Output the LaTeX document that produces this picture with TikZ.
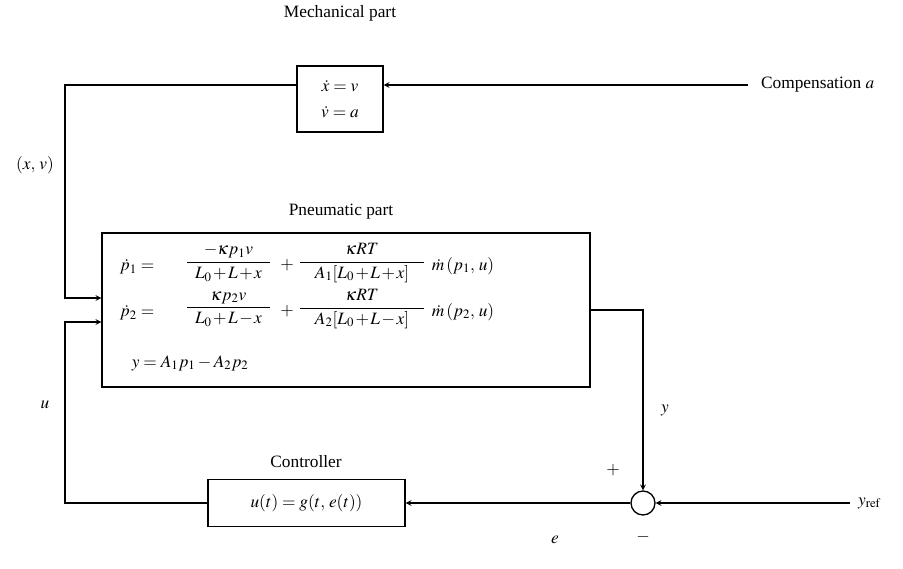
\documentclass[tikz,border=0pt]{standalone}
\usepackage{amsmath}
\usepackage{mathptmx}
\usepackage{fontspec}
\setmainfont{Liberation Serif}
\usetikzlibrary{positioning}
\newcommand{\tightops}{\medmuskip=1.5mu\relax}
\tikzset{blk/.style={draw, line width=1pt, inner sep=0pt},
  txt/.style={inner sep=1pt}}
\begin{document}
\begin{tikzpicture}[x=0.75pt, y=-0.75pt, >=stealth, line width=0.9pt, font=\fontsize{13}{15}\selectfont]
\useasboundingbox (0,0) rectangle (903,568);
% mechanical part
\node[blk, minimum width=64.5pt, minimum height=49.5pt] (mech) at (340,99) {};
\node[txt] (xdot) at (340,86) {$\dot x = v$};
\node[txt] (vdot) at (340,112) {$\dot v = a$};
\node (mechlbl) at (340,13) {Mechanical part};
\node[anchor=west] (comp) at (756,85) {Compensation $a$};
\coordinate (compin) at (748,85);
\draw[->] (compin) -- (mech.east |- compin);
% pneumatic part
\node[blk, minimum width=366pt, minimum height=115.5pt] (pneu) at (346,310) {};
\node (pneulbl) at (341,212) {Pneumatic part};
\node[txt, anchor=west] (p1) at (118,267) {$\dot p_1 =$};
\node[txt] (f11) at (228.5,263) {$\tightops\dfrac{-\kappa p_1 v}{\hspace{6pt}L_0+L+x\hspace{6pt}}$};
\node[txt] (pl1) at (287,265) {$+$};
\node[txt] (f12) at (362,263) {$\tightops\dfrac{\kappa RT}{\hspace{11pt}A_1[L_0+L+x]\hspace{11pt}}$};
\node[txt, anchor=west] (m1) at (430,266) {$\dot m\,(p_1,\, u)$};
\node[txt, anchor=west] (p2) at (118,313) {$\dot p_2 =$};
\node[txt] (f21) at (228.5,309) {$\tightops\dfrac{\kappa p_2 v}{\hspace{6pt}L_0+L-x\hspace{6pt}}$};
\node[txt] (pl2) at (287,311) {$+$};
\node[txt] (f22) at (362,309) {$\tightops\dfrac{\kappa RT}{\hspace{11pt}A_2[L_0+L-x]\hspace{11pt}}$};
\node[txt, anchor=west] (m2) at (430,312) {$\dot m\,(p_2,\, u)$};
\node[txt, anchor=west] (yeq) at (130,363) {$y = A_1p_1 - A_2p_2$};
\coordinate (in1) at (pneu.west |- 0,298);
\coordinate (in2) at (pneu.west |- 0,322);
\coordinate (out) at (pneu.east |- 0,310);
% controller and summing point
\node[blk, minimum width=147.75pt, minimum height=35.25pt] (ctrl) at (306.5,503) {$u(t) = g(t,\, e(t))$};
\node (ctrllbl) at (306,462) {Controller};
\node[blk, circle, minimum size=18pt] (sum) at (643,503) {};
\node[anchor=west] (yref) at (853,503) {$y_{\mathrm{ref}}$};
\coordinate (refin) at (850,503);
% connections
\draw[->] (mech.west |- compin) -| (65,298) -- (in1);
\draw[->] (ctrl.west) -| (65,322) -- (in2);
\draw[->] (out) -| (sum.north);
\draw[->] (refin) -- (sum.east);
\draw[->] (sum.west) -- (ctrl.east);
% signal labels
\node (xv) at (35,165) {$(x,\, v)$};
\node (ulbl) at (45,405) {$u$};
\node (ylbl) at (665,410) {$y$};
\node (plus) at (613,470) {$+$};
\node (minus) at (643,537) {$-$};
\node (elbl) at (555,540) {$e$};
\end{tikzpicture}
\end{document}
